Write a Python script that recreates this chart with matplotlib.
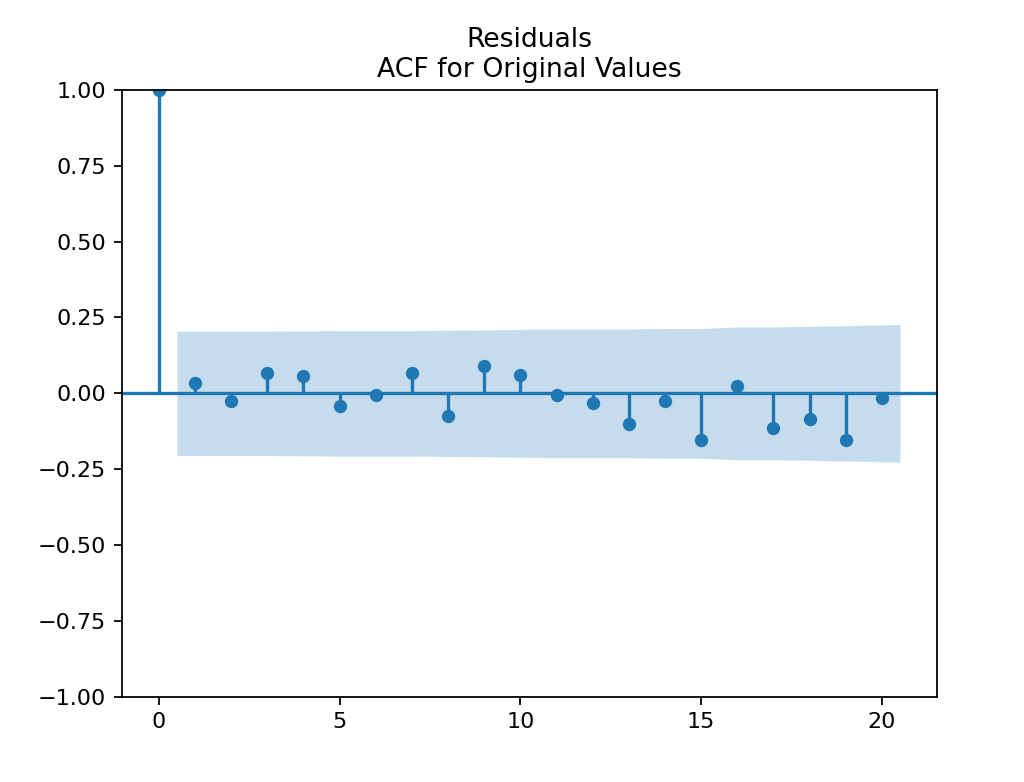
import numpy as np
import matplotlib
matplotlib.use('Agg')
import matplotlib.pyplot as plt

# Autocorrelation values (lag 0 to 20)
lags = np.arange(0, 21)
acf_values = [1.0, 0.035, -0.025, 0.068, 0.058, -0.041, -0.005, 0.068, -0.074, 0.09,
              0.061, -0.005, -0.031, -0.10, -0.025, -0.153, 0.025, -0.114, -0.084, -0.153,
              -0.015]

# Half-width of the confidence band for lags 1 to 20
band_half = [0.205, 0.205, 0.205, 0.206, 0.207, 0.207, 0.207, 0.208, 0.209, 0.211,
             0.212, 0.212, 0.212, 0.214, 0.214, 0.219, 0.219, 0.221, 0.223, 0.227]

fig, ax = plt.subplots(figsize=(6.4, 4.8875), dpi=160)
fig.subplots_adjust(left=0.119, right=0.915, top=0.885, bottom=0.109)

# Stems + markers + zero line
ax.vlines(lags, [0], acf_values, color='C0')
ax.axhline(color='C0')
ax.plot(lags, acf_values, marker='o', markersize=5, linestyle='None', color='C0')

# Confidence band (edges pushed out by half a lag, like statsmodels)
band_x = lags[1:].astype(float)
band_x[0] -= 0.5
band_x[-1] += 0.5
band = np.array(band_half)
ax.fill_between(band_x, -band, band, alpha=0.25, linewidth=0, color='C0')

ax.margins(0.05)
ax.set_ylim(-1, 1)
ax.set_title('Residuals\nACF for Original Values')

plt.savefig('out.png')
